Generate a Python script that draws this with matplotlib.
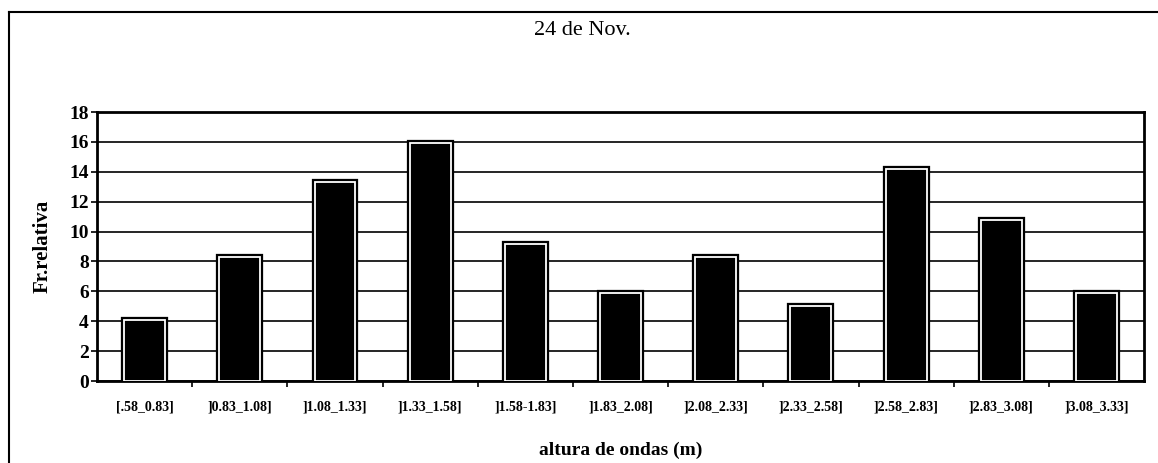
import matplotlib.pyplot as plt
from matplotlib.lines import Line2D

plt.rcParams['font.family'] = ['Liberation Serif', 'DejaVu Serif']

categories = ['[.58_0.83]', ']0.83_1.08]', ']1.08_1.33]', ']1.33_1.58]', ']1.58-1.83]',
              ']1.83_2.08]', ']2.08_2.33]', ']2.33_2.58]', ']2.58_2.83]', ']2.83_3.08]',
              ']3.08_3.33]']
fr_relativa = [4.1, 8.3, 13.3, 15.9, 9.2, 5.9, 8.3, 5.0, 14.2, 10.8, 5.9]
y_ticks = [0, 2, 4, 6, 8, 10, 12, 14, 16, 18]

fig = plt.figure(figsize=(11.58, 4.63), dpi=100)
ax = fig.add_axes([0.0838, 0.177, 0.9042, 0.581])

x = list(range(len(categories)))
# outer black border, then white inner stroke over black fill
ax.bar(x, fr_relativa, width=0.43, color='black', edgecolor='black', linewidth=4.5, zorder=3)
ax.bar(x, fr_relativa, width=0.43, color='black', edgecolor='white', linewidth=1.3, zorder=4)

ax.set_xlim(-0.5, len(categories) - 0.5)
ax.set_ylim(0, 18)
ax.set_yticks(y_ticks)
ax.set_yticklabels([str(v) for v in y_ticks], fontsize=14, fontweight='bold')
ax.set_xticks(x)
ax.set_xticklabels(categories, fontsize=10, fontweight='bold')
ax.set_xticks([i + 0.5 for i in x[:-1]], minor=True)
ax.tick_params(axis='x', which='major', length=0, pad=14)
ax.tick_params(axis='x', which='minor', length=4, width=1.2, direction='out')
ax.tick_params(axis='y', length=4, width=1.2, direction='out', pad=2)

ax.grid(axis='y', color='black', linewidth=1.2, zorder=0)
ax.set_axisbelow(True)
for s in ax.spines.values():
    s.set_linewidth(2)
    s.set_color('black')

ax.set_ylabel('Fr.relativa', fontsize=15, fontweight='bold', labelpad=12)
ax.set_xlabel('altura de ondas (m)', fontsize=14, fontweight='bold', labelpad=20)
fig.text(0.503, 0.935, '24 de Nov.', ha='center', va='center', fontsize=16)

# outer chart frame (top and left edges)
fig.add_artist(Line2D([0.008, 1.0], [0.974, 0.974], color='black', linewidth=1.5, transform=fig.transFigure))
fig.add_artist(Line2D([0.008, 0.008], [0.0, 0.974], color='black', linewidth=1.5, transform=fig.transFigure))

fig.savefig('out.png', dpi=100)
